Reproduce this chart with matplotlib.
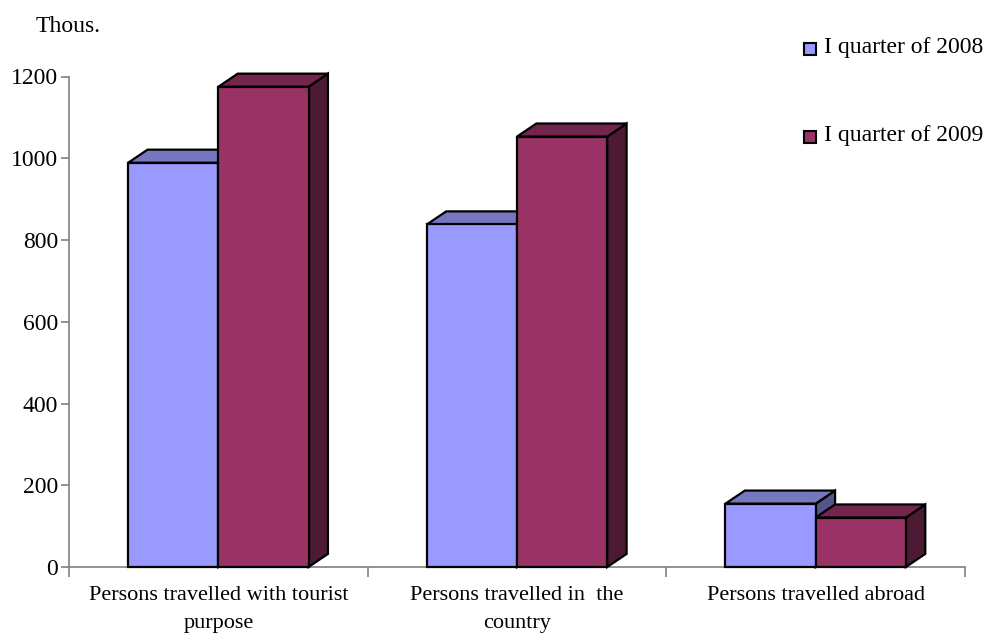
import matplotlib
matplotlib.use("Agg")
import matplotlib.pyplot as plt
from matplotlib.patches import Polygon, Rectangle

categories = ["Persons travelled with tourist\npurpose",
              "Persons travelled in  the\ncountry",
              "Persons travelled abroad"]
series_names = ["I quarter of 2008", "I quarter of 2009"]
values_2008 = [989, 838, 155]
values_2009 = [1175, 1053, 121]
yticks = [0, 200, 400, 600, 800, 1000, 1200]

front_colors = ["#9999FF", "#993366"]
top_colors = ["#7777BF", "#73264D"]
side_colors = ["#55558A", "#4C1A33"]

plt.rcParams['font.family'] = ['Liberation Serif', 'DejaVu Serif']

fig = plt.figure(figsize=(9.88, 6.35), dpi=100)
ax = fig.add_axes([69/988, 1 - 567/635, (965-69)/988, (567-76.5)/635])
ax.set_xlim(0, 3)
ax.set_ylim(0, 1200)

bar_w = 0.302
dx = 0.065   # depth offset in category units
dy = 32      # depth offset in value units

for s, vals in enumerate([values_2008, values_2009]):
    for i, v in enumerate(vals):
        x0 = i + 0.5 - bar_w + s * bar_w
        x1 = x0 + bar_w
        front = Rectangle((x0, 0), bar_w, v, facecolor=front_colors[s],
                          edgecolor="black", linewidth=1.6, clip_on=False, zorder=3)
        top = Polygon([(x0, v), (x0 + dx, v + dy), (x1 + dx, v + dy), (x1, v)],
                      closed=True, facecolor=top_colors[s], edgecolor="black",
                      linewidth=1.6, clip_on=False, zorder=3)
        side = Polygon([(x1, 0), (x1 + dx, dy), (x1 + dx, v + dy), (x1, v)],
                       closed=True, facecolor=side_colors[s], edgecolor="black",
                       linewidth=1.6, clip_on=False, zorder=3)
        ax.add_patch(side)
        ax.add_patch(top)
        ax.add_patch(front)

for sp in ["top", "right"]:
    ax.spines[sp].set_visible(False)
for sp in ["left", "bottom"]:
    ax.spines[sp].set_color("#808080")
    ax.spines[sp].set_linewidth(1.2)
    ax.spines[sp].set_zorder(1)

ax.set_yticks(yticks)
ax.set_yticklabels([str(t) for t in yticks], fontsize=17)
ax.tick_params(axis="y", direction="out", length=6, color="#808080", width=1.2, pad=2)

ax.set_xticks([0, 1, 2, 3])
ax.set_xticklabels([])
ax.tick_params(axis="x", which="major", direction="out", length=7, color="#808080", width=1.2)
ax.set_xticks([0.5, 1.5, 2.5], minor=True)
ax.set_xticklabels(categories, minor=True, fontsize=16, linespacing=1.62)
ax.tick_params(axis="x", which="minor", length=0, pad=14)

fig.text(36/988, 1 - 26/635, "Thous.", fontsize=17, va="center", ha="left")

legend_y = [48, 136]
for s in range(2):
    fig.patches.append(Rectangle((804/988, 1 - (legend_y[s] + 6.5)/635), 12/988, 12/635,
                                 transform=fig.transFigure, facecolor=front_colors[s],
                                 edgecolor="black", linewidth=1.5))
    fig.text(824/988, 1 - legend_y[s]/635, series_names[s], fontsize=17,
             va="center", ha="left")

fig.savefig("out.png", dpi=100)
